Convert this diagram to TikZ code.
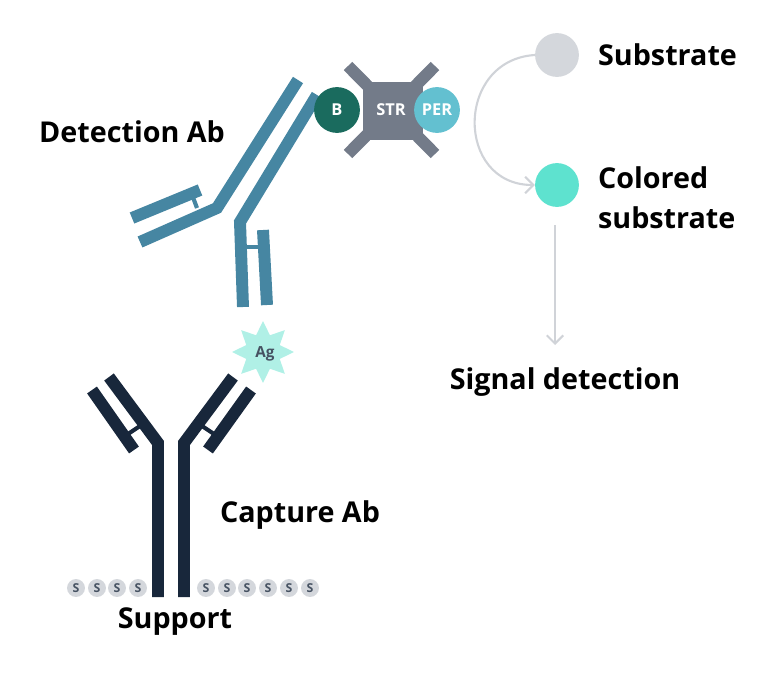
\documentclass[tikz,border=0pt]{standalone}
\usepackage{fontspec}
\setmainfont{Open Sans}
\usetikzlibrary{shapes.geometric,arrows.meta}
\begin{document}
\begin{tikzpicture}[x=0.03cm,y=-0.03cm,
    lbl/.style={font=\fontsize{24.5}{34}\selectfont\bfseries},
    chain/.style={line width=12*0.85pt},
    link/.style={line width=3.5pt},
    sdot/.style={circle,fill=ss_grey,inner sep=0pt,minimum size=18*0.85pt,font=\fontsize{10.5}{10}\selectfont\bfseries,text=cap_navy!80}]
    \definecolor{cap_navy}{HTML}{18273b}
    \definecolor{det_blue}{HTML}{4686a2}
    \definecolor{ag_mint}{HTML}{b0f0e6}
    \definecolor{b_green}{HTML}{1a6b5e}
    \definecolor{str_grey}{HTML}{737b89}
    \definecolor{per_cyan}{HTML}{63c0d0}
    \definecolor{ss_grey}{HTML}{d4d7dc}
    \definecolor{col_teal}{HTML}{5ee2cf}
    \definecolor{arr_grey}{HTML}{d0d3d8}
    \useasboundingbox (0,0) rectangle (777,675);

    % capture antibody
    \draw[chain,cap_navy] (158,597) -- (158,443) -- (109,377);
    \draw[chain,cap_navy] (92,390) -- (134,450);
    \draw[link,cap_navy] (128,434) -- (143,424);
    \draw[chain,cap_navy] (184,597) -- (184,443) -- (233,377);
    \draw[chain,cap_navy] (251,390) -- (208,450);
    \draw[link,cap_navy] (214,434) -- (199,424);

    % support
    \foreach \x in {76,97,117,138,206,227,247,268,289,310}
        \node[sdot] (s\x) at (\x,588) {S};

    % detection antibody
    \draw[chain,det_blue] (298,80) -- (217,208) -- (140,242);
    \draw[chain,det_blue] (132,218) -- (200,190);
    \draw[link,det_blue] (191,192) -- (197,208);
    \draw[chain,det_blue] (317,95) -- (240,222) -- (243,307);
    \draw[chain,det_blue] (263,230) -- (267,305);
    \draw[link,det_blue] (246,247) -- (262,247);

    % antigen
    \node[star,star points=8,star point ratio=1.7,fill=ag_mint,minimum size=62*0.85pt,inner sep=0pt] (ag) at (263,352) {};
    \node[font=\fontsize{13}{13}\selectfont\bfseries,text=cap_navy!80] (agtxt) at (265,354) {Ag};

    % enzyme complex
    \draw[str_grey,line width=12*0.85pt] (348,66) -- (435,154) (435,66) -- (348,154);
    \path[fill=str_grey] (363,82) rectangle (423,140);
    \node[circle,fill=b_green,minimum size=46*0.85pt,inner sep=0pt,text=white,font=\fontsize{14}{14}\selectfont\bfseries] (bio) at (337,110) {B};
    \node[text=white,font=\fontsize{14}{14}\selectfont\bfseries] (str) at (391,110) {STR};
    \node[circle,fill=per_cyan,minimum size=46*0.85pt,inner sep=0pt,text=white,font=\fontsize{14}{14}\selectfont\bfseries] (per) at (437,110) {PER};

    % substrate
    \node[circle,fill=ss_grey,minimum size=44*0.85pt,inner sep=0pt] (sub) at (557,55) {};
    \node[circle,fill=col_teal,minimum size=44*0.85pt,inner sep=0pt] (csub) at (557,185) {};
    \node[lbl,anchor=west] (subl) at (594,55) {Substrate};
    \node[lbl,anchor=west,align=left] (csubl) at (594,198) {Colored\\substrate};
    \node[lbl] (sig) at (565,382) {Signal detection};
    \draw[arr_grey,line width=1.8pt,-{Straight Barb[length=7pt,width=14pt]}]
        (sub.west) .. controls (455,60) and (455,185) .. (csub.west);
    \coordinate (c1) at (555,225);
    \coordinate (c2) at (555,345);
    \draw[arr_grey,line width=1.8pt,-{Straight Barb[length=7pt,width=14pt]}] (c1) -- (c2);

    \node[lbl] (det) at (132,132) {Detection Ab};
    \node[lbl] (cap) at (300,515) {Capture Ab};
    \node[lbl] (sup) at (175,622) {Support};
\end{tikzpicture}
\end{document}
